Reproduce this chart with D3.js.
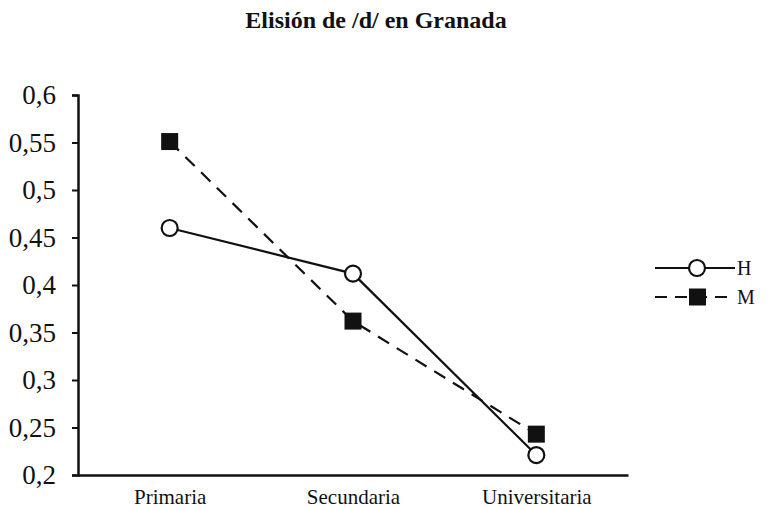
<!DOCTYPE html>
<html>
<head>
<meta charset="utf-8">
<script src="https://cdn.jsdelivr.net/npm/d3@7"></script>
<style>
  body { margin: 0; background: #fff; }
  svg text { font-family: "Liberation Serif", "Times New Roman", serif; fill: #111; }
</style>
</head>
<body>
<svg id="chart" width="769" height="510"></svg>
<script>
// data
var categories = ["Primaria", "Secundaria", "Universitaria"];
var seriesNames = ["H", "M"];
var valuesH = [0.46, 0.412, 0.221];
var valuesM = [0.551, 0.362, 0.243];
var yTicks = [0.2, 0.25, 0.3, 0.35, 0.4, 0.45, 0.5, 0.55, 0.6];

var width = 769, height = 510;
var mLeft = 78, mRight = 628, mTop = 95, mBottom = 475;

var svg = d3.select("#chart");

var x = d3.scalePoint()
    .domain(categories)
    .range([mLeft, mRight])
    .padding(0.5);

var y = d3.scaleLinear()
    .domain([0.2, 0.6])
    .range([mBottom, mTop]);

var fmt = function(d) { return String(+d.toFixed(2)).replace(".", ","); };

// title
svg.append("text")
    .attr("x", 376).attr("y", 28)
    .attr("text-anchor", "middle")
    .style("font-size", "24px")
    .style("font-weight", "bold")
    .text("Elisión de /d/ en Granada");

// y axis
var gy = svg.append("g")
    .attr("transform", "translate(" + mLeft + ",0)")
    .call(d3.axisLeft(y).tickValues(yTicks).tickFormat(fmt).tickSize(6).tickPadding(16));
gy.select(".domain").attr("stroke", "#111").attr("stroke-width", 2.5);
gy.selectAll(".tick line").attr("stroke", "#111").attr("stroke-width", 2);
gy.selectAll(".tick text").style("font-size", "27px").style("font-family", "Liberation Serif, serif").attr("fill", "#111");

// x axis
var gx = svg.append("g")
    .attr("transform", "translate(0," + mBottom + ")")
    .call(d3.axisBottom(x).tickSize(0).tickPadding(14));
gx.select(".domain").attr("stroke", "#111").attr("stroke-width", 2.5);
gx.selectAll(".tick text").style("font-size", "21px").style("font-family", "Liberation Serif, serif").attr("fill", "#111");

var line = d3.line()
    .x(function(d, i) { return x(categories[i]); })
    .y(function(d) { return y(d); });

// series M (dashed, squares)
svg.append("path")
    .datum(valuesM)
    .attr("d", line)
    .attr("fill", "none")
    .attr("stroke", "#111")
    .attr("stroke-width", 2.2)
    .attr("stroke-dasharray", "13,9");

// series H (solid, open circles)
svg.append("path")
    .datum(valuesH)
    .attr("d", line)
    .attr("fill", "none")
    .attr("stroke", "#111")
    .attr("stroke-width", 2.2);

svg.selectAll(".sq")
    .data(valuesM)
    .enter().append("rect")
    .attr("class", "sq")
    .attr("x", function(d, i) { return x(categories[i]) - 8.5; })
    .attr("y", function(d) { return y(d) - 8.5; })
    .attr("width", 17).attr("height", 17)
    .attr("fill", "#111");

svg.selectAll(".circ")
    .data(valuesH)
    .enter().append("circle")
    .attr("class", "circ")
    .attr("cx", function(d, i) { return x(categories[i]); })
    .attr("cy", function(d) { return y(d); })
    .attr("r", 8)
    .attr("fill", "#fff")
    .attr("stroke", "#111")
    .attr("stroke-width", 2.2);

// legend
var legend = svg.append("g").attr("transform", "translate(655,268)");
seriesNames.forEach(function(name, i) {
    var g = legend.append("g").attr("transform", "translate(0," + (i * 29) + ")");
    g.append("line")
        .attr("x1", 0).attr("x2", 80).attr("y1", 0).attr("y2", 0)
        .attr("stroke", "#111").attr("stroke-width", 2.2)
        .attr("stroke-dasharray", name === "M" ? "12,8" : null);
    if (name === "H") {
        g.append("circle").attr("cx", 42).attr("cy", 0).attr("r", 8)
            .attr("fill", "#fff").attr("stroke", "#111").attr("stroke-width", 2.2);
    } else {
        g.append("rect").attr("x", 34).attr("y", -8.5).attr("width", 17).attr("height", 17)
            .attr("fill", "#111");
    }
    g.append("text").attr("x", 82).attr("y", 7)
        .style("font-size", "20px")
        .text(name);
});
</script>
</body>
</html>
